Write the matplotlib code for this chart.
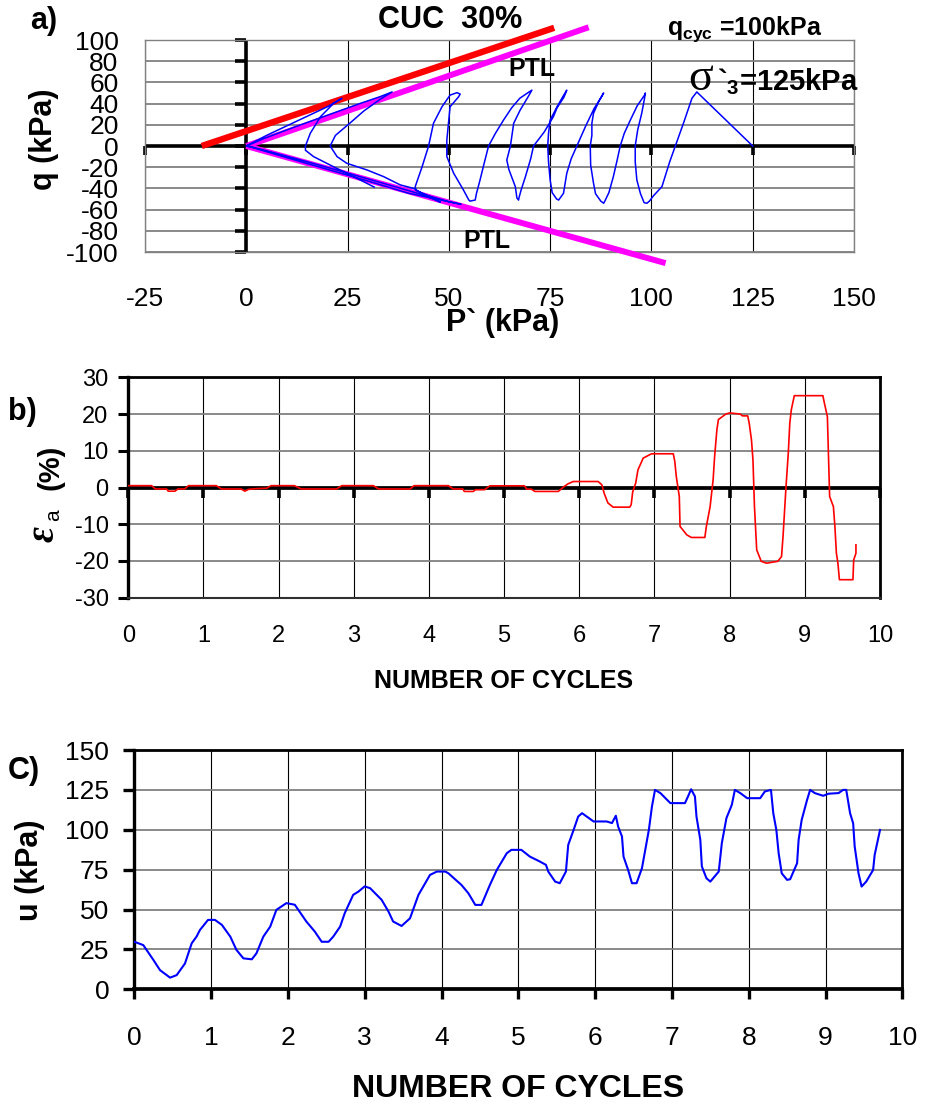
import numpy as np
import matplotlib
matplotlib.use("Agg")
import matplotlib.pyplot as plt
from matplotlib.lines import TICKDOWN, TICKLEFT

plt.rcParams["font.family"] = ["Liberation Sans", "DejaVu Sans"]
plt.rcParams["mathtext.fontset"] = "custom"
plt.rcParams["mathtext.rm"] = "Liberation Sans"
plt.rcParams["mathtext.bf"] = "Liberation Sans:bold"
plt.rcParams["mathtext.it"] = "Liberation Sans:italic"
plt.rcParams["axes.unicode_minus"] = False

# ---------------- data ----------------
# (a) effective stress path p'-q
p_stress = [125, 111.2,
            110, 107.9, 105.9, 104.5, 102.6, 100.5, 99.5, 98.9,
            98.2, 97.3, 96.4, 96.0, 96.0, 96.6, 97.6, 98.3, 98.5,
            98.3, 96.5, 94.8, 93.3, 92.3, 91.5, 90.6, 89.5, 88.5, 88.2,
            87.5, 86.2, 85.7, 85.0, 84.9, 85.3, 85.3, 85.7, 87.0, 88.2,
            87.6, 85.8, 83.7, 81.6, 80.2, 79.1, 78.3, 77.3, 77.1,
            76.6, 75.5, 75.0, 74.6, 74.4, 74.6, 75.0, 76.7, 78.2, 79.1,
            78.4, 76.7, 75.8, 73.5, 70.9, 70.2, 68.9, 67.8, 67.3, 67.2,
            66.8, 66.4, 64.8, 64.3, 65.2, 66.0, 67.6, 69.5, 70.5,
            69.8, 67.5, 65.5, 63.5, 61.5, 59.8, 58.8, 57.7, 56.8, 56.5, 55.2,
            54.9, 53.6, 51.2, 49.5, 49.5, 49.9, 50.3, 52.4, 52.8, 52.0,
            50.3, 48.3, 46.2, 45.0, 43.4, 41.7, 41.9, 45.4, 47.9,
            44.0, 35.0, 25.0, 15.0, 6.0, 1.0, 0.0,
            4.0, 12.0, 20.0, 28.0, 33.0, 36.0,
            33.0, 29.0, 25.7, 22.0, 20.7, 22.4, 24.8, 29.8, 33.9, 38.0, 41.3, 44.0, 50.0, 53.0,
            40.0, 30.0, 20.0, 10.0, 2.0, 0.0,
            5.0, 10.0, 15.0, 20.0, 23.6,
            21.5, 18.3, 15.8, 14.6, 14.6, 16.6, 21.5, 26.5, 31.6]
q_stress = [0, 51,
            45, 21.4, 0, -15, -38.3, -47, -52, -54,
            -53.5, -45, -32, -15, 0, 15, 30.8, 45, 50,
            48, 38, 24.5, 12, 0, -14, -28.9, -44, -52, -54,
            -52, -45, -35, -18, 0, 10, 21.4, 30.8, 42, 50,
            46, 35, 18.2, 0, -12, -25.8, -44.6, -50, -51,
            -50, -44, -32, -15, 0, 12, 24.5, 37, 47, 52.7,
            46, 36, 27.6, 13, 0, -12, -28.9, -42, -49, -51,
            -49, -38.3, -22, -13.2, 0, 21.4, 33.9, 46, 52.7,
            51, 45, 36, 24.5, 12, 0, -15, -32, -45, -51, -52,
            -50.8, -41.5, -25.8, -10, 5.6, 21.4, 37, 46.4, 49, 50.3,
            48, 37, 21.4, 0, -19.5, -38.3, -42, -47.7, -53,
            -46.5, -36.5, -25.5, -14.8, -5.5, -0.5, 0,
            6.5, 18, 29, 40, 46.5, 51,
            44, 33, 22, 10, 0, -10, -16.3, -22.6, -28.9, -36.7, -40, -46, -52.5, -55,
            -44.5, -33, -22, -11, -2, 0,
            10, 19, 28, 37, 45,
            40, 27.6, 12, 0, -4, -10, -19.5, -28.9, -38.8]

cuc_p = [-11, 76]          # CUC 30% failure line
cuc_q = [0, 111.5]
ptl_comp_p = [0, 84.5]     # phase transformation line, compression
ptl_comp_q = [0, 112]
ptl_ext_p = [0, 103.5]     # phase transformation line, extension
ptl_ext_q = [0, -110.5]

p_ticks = [-25, 0, 25, 50, 75, 100, 125, 150]
q_ticks = [-100, -80, -60, -40, -20, 0, 20, 40, 60, 80, 100]

# (b) axial strain vs number of cycles
cycles_b = [0, 0.31, 0.36, 0.51, 0.53, 0.62, 0.66, 0.75, 0.80, 1.17, 1.24, 1.50, 1.55,
            1.60, 1.71, 1.84, 1.90, 2.21, 2.30, 2.77, 2.84, 3.26, 3.33, 3.75, 3.80,
            4.26, 4.32, 4.45, 4.47, 4.59, 4.62, 4.74, 4.81, 5.27, 5.30, 5.36, 5.41,
            5.72, 5.80, 5.85, 5.92, 6.25, 6.30, 6.33, 6.38, 6.45, 6.67, 6.69, 6.71,
            6.75, 6.78, 6.85, 6.96, 7.25, 7.27, 7.29, 7.33, 7.34, 7.43, 7.49, 7.67,
            7.69, 7.74, 7.78, 7.80, 7.83, 7.85, 7.95, 8.00, 8.14, 8.17, 8.24, 8.26,
            8.29, 8.31, 8.33, 8.36, 8.42, 8.49, 8.64, 8.69, 8.71, 8.75, 8.78, 8.80,
            8.82, 8.86, 9.24, 9.26, 9.30, 9.31, 9.33, 9.38, 9.40, 9.42, 9.44, 9.46,
            9.64, 9.65, 9.68, 9.68]
strain_a = [0.5, 0.5, -0.4, -0.4, -1.0, -1.0, -0.4, -0.4, 0.5, 0.5, -0.4, -0.4, -1.0,
            -0.5, -0.3, -0.2, 0.5, 0.5, -0.4, -0.4, 0.5, 0.5, -0.4, -0.4, 0.5,
            0.5, -0.4, -0.4, -1.07, -1.07, -0.6, -0.6, 0.46, 0.46, -0.44, -0.44, -1.07,
            -1.07, 0.3, 1.0, 1.63, 1.63, 0.73, -1.54, -4.2, -5.35, -5.35, -4.7, -1.2,
            1.2, 4.8, 8.0, 9.18, 9.18, 7.1, 3.0, -2.45, -10.6, -12.9, -13.6, -13.6,
            -10.6, -5.2, 2.1, 8.45, 15.7, 18.5, 20.0, 20.3, 20.0, 19.5, 19.5, 17.5,
            13.0, 7.5, -5.2, -17.0, -20.1, -20.6, -20.1, -18.8, -13.3, 0.3, 9.4, 17.5,
            21.15, 25.0, 25.0, 23.0, 19.3, 12.1, -2.45, -5.2, -10.6, -17.9, -20.6, -25.1,
            -25.1, -19.7, -17.9, -15.6]

# (c) excess pore pressure vs number of cycles
cycles_c = [0, 0.117, 0.25, 0.335, 0.466, 0.552, 0.66, 0.747, 0.81, 0.855, 0.96, 1.05,
            1.14, 1.25, 1.33, 1.42, 1.53, 1.59, 1.68, 1.77, 1.85, 1.98, 2.09, 2.24,
            2.35, 2.44, 2.53, 2.59, 2.68, 2.74, 2.85, 2.92, 3.00, 3.07, 3.22, 3.31,
            3.37, 3.48, 3.59, 3.70, 3.85, 3.94, 4.05, 4.09, 4.26, 4.35, 4.44, 4.52,
            4.63, 4.72, 4.85, 4.91, 5.04, 5.15, 5.28, 5.36, 5.39, 5.48, 5.54, 5.62,
            5.65, 5.72, 5.78, 5.83, 5.98, 6.15, 6.22, 6.27, 6.30, 6.35, 6.37, 6.43,
            6.48, 6.54, 6.61, 6.70, 6.74, 6.78, 6.85, 6.98, 7.17, 7.21, 7.25, 7.30,
            7.32, 7.37, 7.39, 7.45, 7.50, 7.61, 7.65, 7.71, 7.78, 7.82, 7.89, 7.98,
            8.15, 8.21, 8.29, 8.32, 8.36, 8.39, 8.43, 8.50, 8.54, 8.63, 8.65, 8.69,
            8.76, 8.80, 8.86, 8.97, 9.04, 9.17, 9.23, 9.27, 9.32, 9.36, 9.38, 9.43,
            9.47, 9.53, 9.62, 9.64, 9.71]
pore_u = [29.8, 27.7, 18.3, 12.0, 7.3, 8.9, 16.2, 28.8, 33.0, 37.2, 43.5, 43.5,
          40.4, 33.0, 24.7, 19.4, 18.8, 22.5, 33.0, 39.3, 49.8, 54.0, 53.0, 42.5,
          36.2, 29.8, 29.8, 33.0, 39.3, 47.7, 59.2, 61.3, 64.5, 63.4, 56.1, 48.7,
          42.5, 39.7, 44.5, 59.2, 71.7, 73.8, 73.8, 72.7, 65.4, 60.2, 52.9, 52.9,
          65.4, 74.8, 85.3, 87.4, 87.4, 83.2, 80.1, 78.0, 73.8, 67.5, 66.5, 73.8,
          90.5, 99.9, 108.3, 110.4, 105.2, 105.2, 104.2, 108.8, 102.0, 95.8, 83.2, 74.8,
          66.5, 66.5, 75.9, 99.9, 114.5, 125.0, 123.0, 116.7, 116.7, 120.9, 125.4, 120.9,
          108.3, 93.7, 77.0, 69.6, 67.5, 73.8, 91.6, 107.3, 115.6, 125.0, 123.0, 119.8,
          119.8, 124.0, 125.0, 110.4, 99.9, 85.3, 72.7, 68.6, 69.0, 79.0, 93.7, 106.2,
          118.7, 125.0, 123.0, 121.3, 122.6, 123.0, 125.0, 125.0, 110.4, 104.1, 89.5, 72.7,
          64.4, 67.5, 74.8, 84.2, 99.9]

cycle_ticks = list(range(0, 11))
strain_ticks = [-30, -20, -10, 0, 10, 20, 30]
u_ticks = [0, 25, 50, 75, 100, 125, 150]

# ---------------- figure ----------------
W, H, DPI = 928, 1105, 100
fig = plt.figure(figsize=(W / DPI, H / DPI), dpi=DPI, facecolor="white")


def axes_px(left, top, right, bottom):
    return fig.add_axes([left / W, 1 - bottom / H, (right - left) / W, (bottom - top) / H])


def text_px(x, y, s, **kw):
    return fig.text(x / W, 1 - y / H, s, **kw)


GRID_GRAY = "#808080"
BLUE = "#0000ff"
RED = "#ff0000"
MAGENTA = "#ff00ff"

# ---------- (a) stress path ----------
ax = axes_px(145, 40, 854, 252)
ax.set_xlim(-25, 150)
ax.set_ylim(-100, 100)
ax.set_xticks(p_ticks)
ax.set_yticks(q_ticks)
ax.set_xticklabels([str(v) for v in p_ticks])
ax.set_yticklabels([str(v) for v in q_ticks])
ax.tick_params(axis="both", length=0, labelsize=19)
ax.tick_params(axis="y", pad=19)
ax.tick_params(axis="x", pad=25)
ax.yaxis.grid(True, color=GRID_GRAY, lw=1.3)
ax.xaxis.grid(True, color="black", lw=0.8)
ax.set_axisbelow(True)
for s in ax.spines.values():
    s.set_color(GRID_GRAY)
    s.set_linewidth(1.0)
ax.axhline(0, color="black", lw=2.6, zorder=2)
ax.axvline(0, color="black", lw=2.6, zorder=2)
ax.plot(np.zeros(len(q_ticks)), q_ticks, ls="none", marker=TICKLEFT, ms=8,
        mew=2.6, color="black", clip_on=False, zorder=2)
ax.plot(p_ticks, np.zeros(len(p_ticks)), ls="none", marker=TICKDOWN, ms=6.5,
        mew=2.6, color="black", clip_on=False, zorder=2)
ax.plot(cuc_p, cuc_q, color=RED, lw=4.6, solid_capstyle="butt", clip_on=False, zorder=3)
ax.plot(ptl_comp_p, ptl_comp_q, color=MAGENTA, lw=4.3, solid_capstyle="butt",
        clip_on=False, zorder=3)
ax.plot(ptl_ext_p, ptl_ext_q, color=MAGENTA, lw=4.3, solid_capstyle="butt",
        clip_on=False, zorder=3)
ax.plot(p_stress, q_stress, color=BLUE, lw=1.1, zorder=4)

text_px(30, 21, "a)", fontsize=22, fontweight="bold", ha="left", va="center")
text_px(378, 20, "CUC  30%", fontsize=22, fontweight="bold", ha="left", va="center")
text_px(667, 35, r"q$_{\mathbf{cyc}}$ =100kPa", fontsize=18, fontweight="bold",
        ha="left", va="baseline")
text_px(508, 69, "PTL", fontsize=18, fontweight="bold", ha="left", va="center")
text_px(463, 241, "PTL", fontsize=18, fontweight="bold", ha="left", va="center")
text_px(688, 90, "σ", fontsize=33, family="Liberation Serif", ha="left", va="baseline")
text_px(717, 90, r"`$_{\mathbf{3}}$=125kPa", fontsize=21, fontweight="bold",
        ha="left", va="baseline")
text_px(44, 139, "q (kPa)", fontsize=22, fontweight="bold", rotation=90,
        ha="center", va="center")
text_px(503, 323, "P` (kPa)", fontsize=22, fontweight="bold", ha="center", va="center")

# ---------- (b) axial strain ----------
ax = axes_px(128.3, 377.3, 880, 597.7)
ax.set_xlim(0, 10)
ax.set_ylim(-30, 30)
ax.set_xticks(cycle_ticks)
ax.set_yticks(strain_ticks)
ax.set_yticklabels([str(v) for v in strain_ticks])
ax.tick_params(axis="x", length=0, labelsize=17, pad=20)
ax.tick_params(axis="y", direction="out", length=7.2, width=2.2, labelsize=17, pad=7)
ax.yaxis.grid(True, color=GRID_GRAY, lw=1.3)
ax.xaxis.grid(True, color="black", lw=0.8)
ax.set_axisbelow(True)
ax.spines["left"].set_linewidth(2.4)
ax.spines["top"].set_linewidth(2.0)
ax.spines["right"].set_linewidth(2.0)
ax.spines["bottom"].set_linewidth(1.5)
ax.spines["bottom"].set_color("#303030")
ax.axhline(0, color="black", lw=2.7, zorder=2)
ax.plot(cycle_ticks, np.zeros(len(cycle_ticks)), ls="none", marker=TICKDOWN, ms=7,
        mew=2.6, color="black", clip_on=False, zorder=2)
ax.plot(cycles_b, strain_a, color=RED, lw=1.2, zorder=3)

text_px(8, 412, "b)", fontsize=22, fontweight="bold", ha="left", va="center")
text_px(44, 534, "ε", fontsize=28, fontweight="bold", fontstyle="italic",
        family="Liberation Serif", rotation=90, ha="center", va="center")
text_px(54, 515, "a", fontsize=15, rotation=90, ha="center", va="center")
text_px(51, 467, "(%)", fontsize=21, fontweight="bold", rotation=90,
        ha="center", va="center")
text_px(504, 681, "NUMBER OF CYCLES", fontsize=18, fontweight="bold",
        ha="center", va="center")

# ---------- (c) pore pressure ----------
ax = axes_px(134.3, 750, 902.3, 989.3)
ax.set_xlim(0, 10)
ax.set_ylim(0, 150)
ax.set_xticks(cycle_ticks)
ax.set_yticks(u_ticks)
ax.tick_params(axis="x", direction="out", length=7.2, width=2.4, labelsize=19, pad=19)
ax.tick_params(axis="y", direction="out", length=8, width=2.4, labelsize=19, pad=10)
ax.yaxis.grid(True, color=GRID_GRAY, lw=1.3)
ax.xaxis.grid(True, color="black", lw=0.8)
ax.set_axisbelow(True)
ax.spines["left"].set_linewidth(2.4)
ax.spines["bottom"].set_linewidth(2.7)
ax.spines["top"].set_linewidth(2.0)
ax.spines["right"].set_linewidth(2.0)
ax.plot(cycles_c, pore_u, color=BLUE, lw=1.5, zorder=3)

text_px(8, 771, "C)", fontsize=22, fontweight="bold", ha="left", va="center")
text_px(30, 870, "u (kPa)", fontsize=22, fontweight="bold", rotation=90,
        ha="center", va="center")
text_px(518, 1089, "NUMBER OF CYCLES", fontsize=23, fontweight="bold",
        ha="center", va="center")

fig.savefig("out.png", dpi=DPI, facecolor="white")
